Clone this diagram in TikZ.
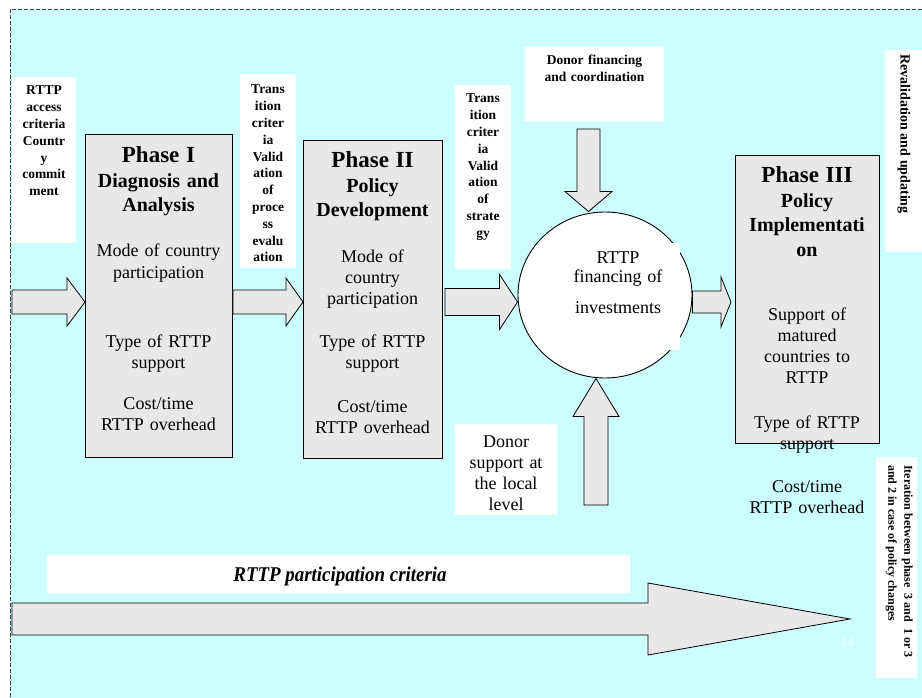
\documentclass[tikz,border=0pt]{standalone}
\usepackage{fontspec}
\setmainfont{Liberation Serif}
\usetikzlibrary{shapes.geometric,calc}
\definecolor{bgc}{RGB}{204,255,255}
\definecolor{boxg}{RGB}{232,232,232}
\definecolor{pgnum}{RGB}{245,255,255}
\newcommand\hblk[5]{\draw[blk] let \p1=(#1), \p2=(#2) in (\x1,\y2+#3) -- (\x2-#5,\y2+#3) -- (\x2-#5,\y2+#4) -- (\x2,\y2) -- (\x2-#5,\y2-#4) -- (\x2-#5,\y2-#3) -- (\x1,\y2-#3) -- cycle;}
\newcommand\dblk[5]{\draw[blk] let \p1=(#1), \p2=(#2) in (\x2-#3,\y1) -- (\x2-#3,\y2+#5) -- (\x2-#4,\y2+#5) -- (\x2,\y2) -- (\x2+#4,\y2+#5) -- (\x2+#3,\y2+#5) -- (\x2+#3,\y1) -- cycle;}
\newcommand\ublk[5]{\draw[blk] let \p1=(#1), \p2=(#2) in (\x2-#3,\y1) -- (\x2-#3,\y2-#5) -- (\x2-#4,\y2-#5) -- (\x2,\y2) -- (\x2+#4,\y2-#5) -- (\x2+#3,\y2-#5) -- (\x2+#3,\y1) -- cycle;}
\newcommand\phasehead[1]{{\fontsize{23}{24.5}\selectfont #1}}
\begin{document}
\begin{tikzpicture}[x=1pt,y=-1pt,
  phase/.style={draw=black, fill=boxg, line width=0.9pt, inner sep=0, anchor=north west},
  wbox/.style={fill=white, inner sep=0, anchor=north west},
  blk/.style={draw=black, fill=boxg, line width=0.8pt, line join=miter},
  ttl/.style={font=\fontsize{20}{24.5}\selectfont\bfseries, align=center, anchor=base, inner sep=0, text width=150pt},
  bdy/.style={font=\fontsize{18}{21}\selectfont, align=center, anchor=base, inner sep=0, text width=150pt},
  lbl/.style={font=\fontsize{13.5}{16.8}\selectfont\bfseries, align=center, anchor=base, inner sep=0, text width=60pt},
]
\useasboundingbox (0,0) rectangle (922,698);
% background
\fill[bgc] (10,9) rectangle (922,698);
\draw[gray!50!black, dash pattern=on 4pt off 2pt, line width=0.8pt] (922,9) -- (10,9) -- (10,698);

% white label boxes
\node[wbox, minimum width=64pt, minimum height=166pt] (wacc) at (12,77) {};
\node[wbox, minimum width=56pt, minimum height=194pt] (wtr1) at (240,74) {};
\node[wbox, minimum width=56pt, minimum height=184pt] (wtr2) at (455,85) {};
\node[wbox, minimum width=139pt, minimum height=74pt] (wdf) at (525,47) {};
\node[wbox, minimum width=102pt, minimum height=91pt] (wds) at (455,424) {};
\node[wbox, minimum width=37pt, minimum height=202pt] (wrv) at (885,50) {};
\node[wbox, minimum width=41pt, minimum height=221pt] (wit) at (876,457) {};
\node[wbox, minimum width=583pt, minimum height=38pt] (wpc) at (47,555) {};

% phase boxes
\node[phase, minimum width=147pt, minimum height=323pt] (p1) at (85,134) {};
\node[phase, minimum width=139pt, minimum height=318pt] (p2) at (303,140) {};
\node[phase, minimum width=144pt, minimum height=288pt] (p3) at (735,155) {};

% circle
\node[ellipse, draw=black, fill=white, line width=0.9pt, minimum width=174pt, minimum height=166pt, inner sep=0] (c) at (605,295) {};
\fill[white] (548,243) rectangle (680,350);

% block arrows
\coordinate (a0) at (12,302);
\hblk{a0}{p1.west |- a0}{12pt}{24pt}{18pt}
\hblk{p1.east |- a0}{p2.west |- a0}{12pt}{24pt}{17pt}
\hblk{$(p2.east |- a0)+(2,0)$}{c.west |- a0}{13.5pt}{27.5pt}{18pt}
\hblk{c.east |- a0}{$(p3.west |- a0)+(-4,0)$}{11pt}{25pt}{10pt}
\coordinate (dtop) at (588.5,129);
\dblk{dtop}{dtop |- c.north}{11.5pt}{23.5pt}{20pt}
\coordinate (ubot) at (596,505);
\ublk{ubot}{ubot |- c.south}{12pt}{23pt}{38pt}
\coordinate (bstart) at (12,619);
\coordinate (btip) at (850,619);
\hblk{bstart}{btip}{16pt}{36pt}{202pt}

% phase I text
\node[ttl] (t1) at (158.5,163) {\phasehead{Phase I}\\Diagnosis and\\Analysis};
\node[bdy] (b1a) at (158.5,257) {Mode of country\\participation};
\node[bdy] (b1b) at (158.5,347) {Type of RTTP\\support};
\node[bdy] (b1c) at (158.5,409) {Cost/time\\RTTP overhead};
% phase II text
\node[ttl] (t2) at (372.5,168) {\phasehead{Phase II}\\Policy\\Development};
\node[bdy] (b2a) at (372.5,262) {Mode of\\country\\participation};
\node[bdy] (b2b) at (372.5,347) {Type of RTTP\\support};
\node[bdy] (b2c) at (372.5,412) {Cost/time\\RTTP overhead};
% phase III text
\node[ttl] (t3) at (807,183) {\phasehead{Phase III}\\Policy\\Implementati\\on};
\node[bdy] (b3a) at (807,320) {Support of\\matured\\countries to\\RTTP};
\node[bdy] (b3b) at (807,428) {Type of RTTP\\support};
\node[bdy] (b3c) at (807,492) {Cost/time\\RTTP overhead};

% circle text
\node[bdy, font=\fontsize{18}{20}\selectfont] (ct1) at (618,263) {RTTP\\financing of};
\node[bdy] (ct2) at (618,313) {investments};

% labels
\node[lbl] (lacc) at (44,95) {RTTP\\access\\criteria\\Countr\\y\\commit\\ment};
\node[lbl] (ltr1) at (268,94) {Trans\\ition\\criter\\ia\\Valid\\ation\\of\\proce\\ss\\evalu\\ation};
\node[lbl] (ltr2) at (483,103) {Trans\\ition\\criter\\ia\\Valid\\ation\\of\\strate\\gy};
\node[lbl, text width=139pt] (ldf) at (594.5,65) {Donor financing\\and coordination};
\node[bdy, text width=102pt] (lds) at (506,447) {Donor\\support at\\the local\\level};
\node[font=\fontsize{14}{16}\selectfont\bfseries, rotate=-90, inner sep=0] (lrv) at (904,134) {Revalidation and updating};
\node[font=\fontsize{12}{16}\selectfont\bfseries, rotate=-90, align=left, anchor=north west, inner sep=0] (lit) at (913,465) {Iteration between phase~~3 and~~1 or 3\\and 2 in case of policy changes};
\node[font=\fontsize{21}{24}\selectfont\bfseries\itshape, anchor=base, inner sep=0] (lpc) at (340,581) {\scalebox{0.9}[1]{RTTP participation criteria}};
\node[font=\fontsize{15}{16}\selectfont, text=pgnum, inner sep=0] (pg) at (847,642) {14};
\end{tikzpicture}
\end{document}
